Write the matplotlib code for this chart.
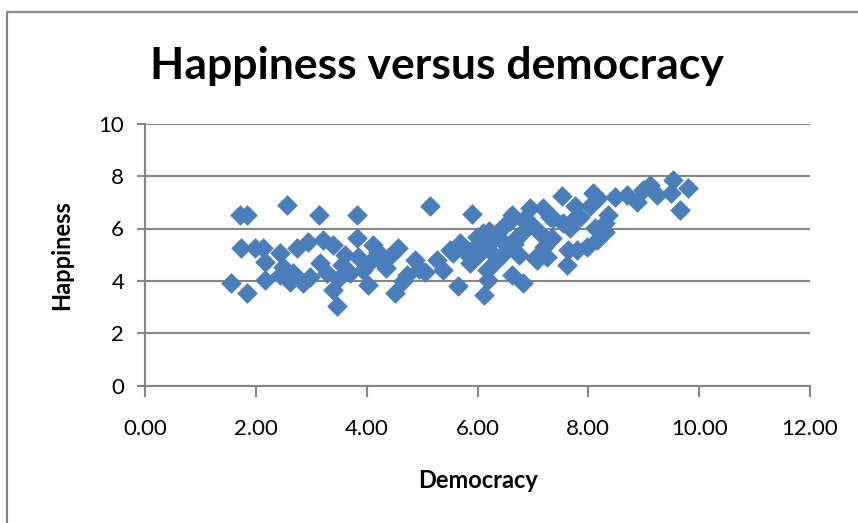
import matplotlib.pyplot as plt
from matplotlib.patches import Rectangle

# democracy index vs. happiness score, one point per country
democracy = [
    1.56, 1.71, 1.84, 1.74, 1.84, 1.99, 2.13, 2.17, 2.17, 2.44, 2.49, 2.44, 2.56,
    2.62, 2.67, 2.74, 2.85, 2.94, 2.98, 3.14, 3.16, 3.21, 3.28, 3.39, 3.39, 3.46,
    3.50, 3.55, 3.60, 3.70, 3.82, 3.82, 3.85, 3.94, 4.03, 4.05, 4.12, 4.20, 4.24,
    4.35, 4.40, 4.51, 4.57, 4.65, 4.73, 4.87, 4.95, 5.05, 5.14, 5.27, 5.38, 5.50,
    5.56, 5.65, 5.69, 5.74, 5.87, 5.87, 5.90, 5.95, 5.99, 6.05, 6.10, 6.12, 6.17,
    6.19, 6.20, 6.23, 6.30, 6.35, 6.35, 6.40, 6.46, 6.53, 6.59, 6.62, 6.62, 6.65,
    6.71, 6.75, 6.80, 6.82, 6.82, 6.95, 6.95, 7.04, 7.08, 7.13, 7.18, 7.20, 7.26,
    7.31, 7.31, 7.37, 7.35, 7.52, 7.55, 7.62, 7.64, 7.67, 7.73, 7.76, 7.80, 7.85,
    7.98, 8.03, 8.09, 8.12, 8.16, 8.18, 8.30, 8.30, 8.36, 8.48, 8.70, 8.88, 8.99,
    9.12, 9.24, 9.50, 9.53, 9.66, 9.80,
]
happiness = [
    3.93, 6.53, 6.53, 5.27, 3.55, 5.27, 5.27, 4.73, 4.05, 5.08, 4.54, 4.24, 6.91,
    3.97, 4.31, 5.27, 3.93, 5.50, 4.16, 6.53, 4.69, 5.57, 4.31, 5.38, 3.66, 3.03,
    4.10, 4.60, 5.00, 4.30, 6.53, 5.65, 4.90, 4.43, 3.85, 4.70, 5.38, 5.10, 4.81,
    4.50, 4.90, 3.55, 5.27, 4.00, 4.24, 4.81, 4.45, 4.35, 6.84, 4.81, 4.43, 5.19,
    5.08, 3.80, 5.46, 5.31, 4.69, 4.92, 6.55, 5.30, 5.69, 5.08, 5.84, 3.45, 4.43,
    4.05, 5.90, 5.46, 5.00, 4.81, 5.84, 5.60, 6.07, 5.19, 6.27, 6.53, 4.24, 5.40,
    5.69, 5.00, 5.84, 3.93, 6.34, 6.79, 6.22, 4.89, 4.81, 5.84, 6.79, 5.30, 4.92,
    5.57, 6.45, 6.41, 5.65, 7.23, 6.22, 4.62, 5.19, 6.03, 6.34, 6.85, 5.19, 6.45,
    5.31, 6.85, 7.35, 6.03, 5.57, 7.17, 6.22, 5.88, 6.53, 7.20, 7.29, 7.02, 7.48,
    7.67, 7.29, 7.35, 7.86, 6.72, 7.55,
]

x_ticks = [0, 2, 4, 6, 8, 10, 12]
y_ticks = [0, 2, 4, 6, 8, 10]

plt.rcParams['font.family'] = ['Lato', 'DejaVu Sans']
grid_gray = '#868686'

fig = plt.figure(figsize=(8.58, 5.23), dpi=100)
ax = fig.add_axes([145 / 858, 1 - 385.7 / 523, 665 / 858, 262 / 523])

# chart-area border
fig.patches.append(Rectangle((7 / 858, -0.1), 1.2, 1 - 12 / 523 + 0.1,
                             transform=fig.transFigure, fill=False,
                             edgecolor=grid_gray, linewidth=1.6))

ax.scatter(democracy, happiness, marker='D', s=100, color='#4A7EBB',
           edgecolors='#4A7EBB', linewidths=0.5, zorder=3)

ax.set_xlim(0, 12)
ax.set_ylim(0, 10)
ax.set_xticks(x_ticks)
ax.set_xticklabels([f"{v:.2f}" for v in x_ticks])
ax.set_yticks(y_ticks)
ax.set_yticklabels([str(v) for v in y_ticks])

ax.grid(axis='y', color=grid_gray, linewidth=1.5)
ax.set_axisbelow(True)
for side in ['top', 'right']:
    ax.spines[side].set_visible(False)
for side in ['left', 'bottom']:
    ax.spines[side].set_color(grid_gray)
    ax.spines[side].set_linewidth(1.5)

ax.tick_params(axis='x', direction='out', length=8, width=1.5,
               color=grid_gray, labelsize=16, pad=16)
ax.tick_params(axis='y', direction='out', length=6, width=1.5,
               color=grid_gray, labelsize=16, pad=9)

fig.text(437 / 858, 1 - 66 / 523, "Happiness versus democracy",
         fontsize=32, fontweight='bold', ha='center', va='center')
fig.text(478 / 858, 1 - 481 / 523, "Democracy",
         fontsize=17, fontweight='bold', ha='center', va='center')
fig.text(62 / 858, 1 - 255 / 523, "Happiness", rotation=90,
         fontsize=17, fontweight='bold', ha='center', va='center')

fig.savefig("out.png", dpi=100)
